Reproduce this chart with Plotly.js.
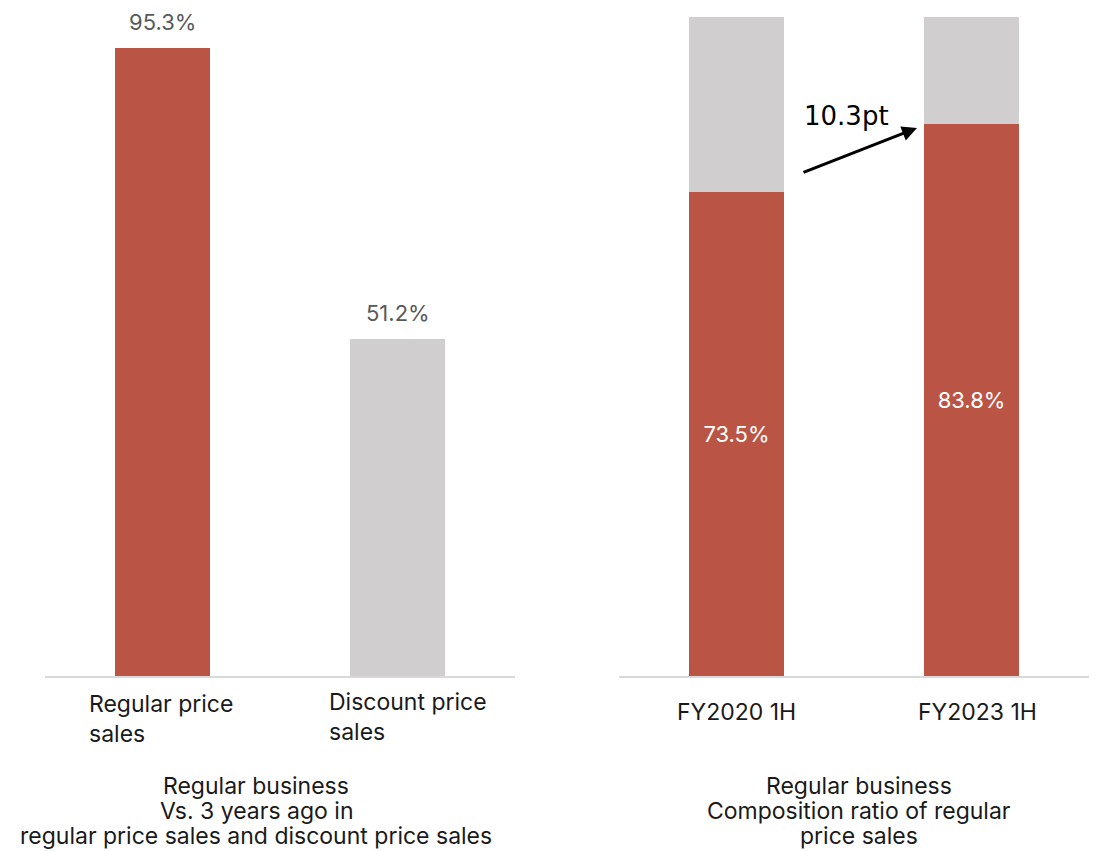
<!DOCTYPE html>
<html>
<head>
<meta charset="utf-8">
<script src="https://cdn.plot.ly/plotly-3.0.1.min.js"></script>
<style>html,body{margin:0;padding:0;background:#fff;}#chart{width:1096px;height:851px;}</style>
</head>
<body>
<div id="chart"></div>
<script>
// ---- data ----
const leftCategories = ['Regular price sales', 'Discount price sales'];
const leftTickLabels = ['Regular price<br>sales', 'Discount price<br>sales'];
const leftValues = [95.3, 51.2];
const leftLabels = ['95.3%', '51.2%'];

const rightCategories = ['FY2020 1H', 'FY2023 1H'];
const regularShare = [73.5, 83.8];
const otherShare = [26.5, 16.2];
const regularShareLabels = ['73.5%', '83.8%'];

const leftTitleLines = ['Regular business', 'Vs. 3 years ago in', 'regular price sales and discount price sales'];
const rightTitleLines = ['Regular business', 'Composition ratio of regular', 'price sales'];
const changeLabel = '10.3pt';

// ---- styles ----
const RED = '#BA5546';
const GRAY = '#D0CECE';
const FONT = 'Inter, "Open Sans", sans-serif';
const FS = 23;
const H = 851, W = 1096;

const traces = [
  {
    type: 'bar', x: leftCategories, y: leftValues, xaxis: 'x', yaxis: 'y',
    marker: {color: [RED, GRAY]}, hoverinfo: 'none', showlegend: false
  },
  {
    type: 'bar', x: rightCategories, y: regularShare, xaxis: 'x2', yaxis: 'y2',
    marker: {color: RED}, text: regularShareLabels, textposition: 'inside',
    insidetextanchor: 'middle', textfont: {family: FONT, size: 22, color: '#ffffff'},
    hoverinfo: 'none', showlegend: false
  },
  {
    type: 'bar', x: rightCategories, y: otherShare, xaxis: 'x2', yaxis: 'y2',
    marker: {color: GRAY}, hoverinfo: 'none', showlegend: false
  }
];

const annotations = [];
leftCategories.forEach((c, i) => {
  annotations.push({
    xref: 'x', yref: 'y', x: c, y: leftValues[i], xanchor: 'center', yanchor: 'bottom',
    text: leftLabels[i], showarrow: false, yshift: 11,
    font: {family: FONT, size: 22, color: '#595959'}
  });
  annotations.push({
    xref: 'x', yref: 'paper', x: c, y: 1 - (i === 1 ? 686 : 688) / H, xanchor: 'center', yanchor: 'top',
    text: leftTickLabels[i], showarrow: false, align: 'left', xshift: i === 1 ? 10 : -2,
    font: {family: FONT, size: FS, color: '#1a1a1a'}
  });
});
rightCategories.forEach((c, i) => {
  annotations.push({
    xref: 'x2', yref: 'paper', x: c, y: 1 - 712 / H, xanchor: 'center', yanchor: 'middle',
    text: c, showarrow: false, xshift: i === 1 ? 6 : 0,
    font: {family: FONT, size: FS, color: '#1a1a1a'}
  });
});
function titleLines(lines, cx) {
  lines.forEach((t, k) => {
    annotations.push({
      xref: 'paper', yref: 'paper', x: cx / W, y: 1 - (786 + 25 * k) / H,
      xanchor: 'center', yanchor: 'middle', text: t, showarrow: false,
      font: {family: FONT, size: FS, color: '#1a1a1a'}
    });
  });
}
titleLines(leftTitleLines, 256);
titleLines(rightTitleLines, 859);

// arrow
annotations.push({
  xref: 'paper', yref: 'paper', x: 917 / W, y: 1 - 128 / H,
  ax: -115, ay: 45, axref: 'pixel', ayref: 'pixel',
  text: '', showarrow: true, arrowhead: 2, arrowsize: 1, arrowwidth: 3, arrowcolor: '#000000'
});
annotations.push({
  xref: 'paper', yref: 'paper', x: 846 / W, y: 1 - 116 / H, xanchor: 'center', yanchor: 'middle',
  text: changeLabel, showarrow: false,
  font: {family: '"DejaVu Sans", Verdana, sans-serif', size: 26, color: '#000000'}
});

const yBottom = 1 - 676 / H;
const yTop = 1 - 17 / H;

const layout = {
  width: W, height: H,
  margin: {l: 0, r: 0, t: 0, b: 0},
  paper_bgcolor: '#ffffff', plot_bgcolor: '#ffffff',
  barmode: 'stack', bargap: 0.596,
  showlegend: false,
  font: {family: FONT},
  xaxis: {domain: [45 / W, 515 / W], showticklabels: false, showline: true,
          linecolor: '#D9D9D9', linewidth: 2, ticks: '', showgrid: false, zeroline: false},
  yaxis: {domain: [yBottom, yTop], range: [0, 100], visible: false, showgrid: false, zeroline: false},
  xaxis2: {domain: [619 / W, 1089 / W], showticklabels: false, showline: true,
           linecolor: '#D9D9D9', linewidth: 2, ticks: '', showgrid: false, zeroline: false, anchor: 'y2'},
  yaxis2: {domain: [yBottom, yTop], range: [0, 100], visible: false, showgrid: false, zeroline: false, anchor: 'x2'},
  annotations: annotations
};

Plotly.newPlot('chart', traces, layout, {displayModeBar: false, staticPlot: true});
</script>
</body>
</html>
